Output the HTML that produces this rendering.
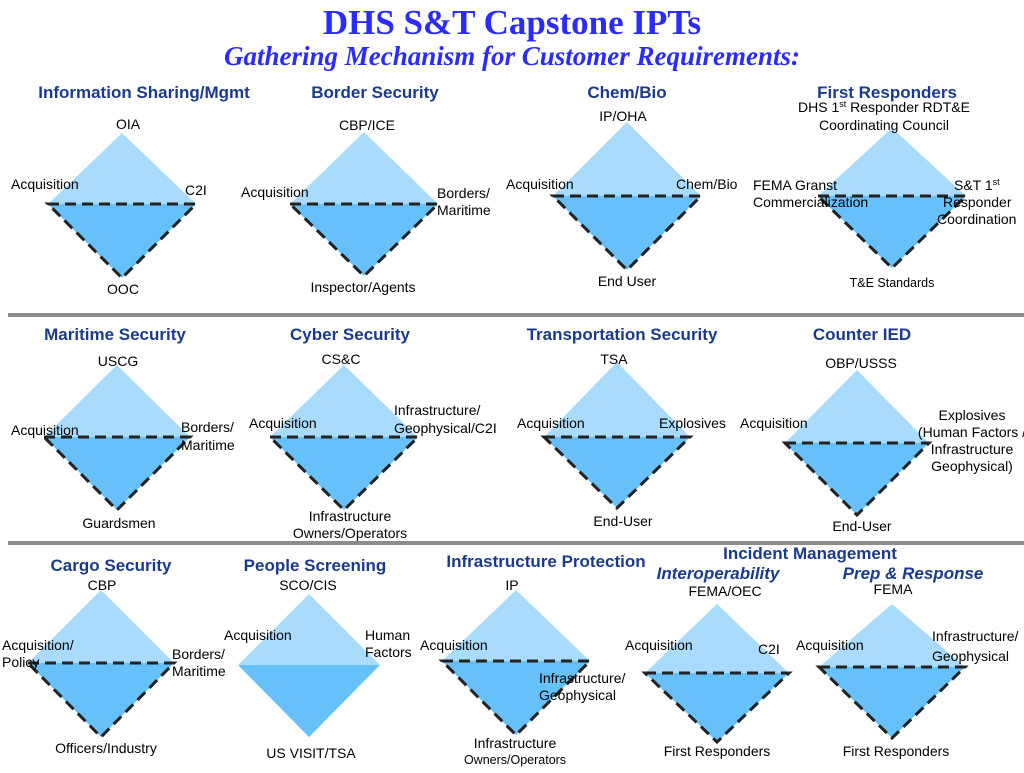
<!DOCTYPE html>
<html><head><meta charset="utf-8"><style>
body{margin:0;background:#fff;width:1024px;height:768px;overflow:hidden}
svg text{font-family:"Liberation Sans",sans-serif;font-size:14px;fill:#000}
.t{font-size:17px;font-weight:bold;fill:#1a3a8c}
.ti{font-size:17px;font-weight:bold;font-style:italic;fill:#1a3a8c}
</style></head><body>
<svg id="s" width="1024" height="768">
<text x="512" y="34" text-anchor="middle" style="font-family:'Liberation Serif',serif;font-size:35px;font-weight:bold;fill:#2b2bff">DHS S&amp;T Capstone IPTs</text>
<text x="512" y="65" text-anchor="middle" style="font-family:'Liberation Serif',serif;font-size:27px;font-weight:bold;font-style:italic;fill:#2b2bff">Gathering Mechanism for Customer Requirements:</text>
<rect x="8" y="313" width="1016" height="4" fill="#8c8c8c"/>
<rect x="8" y="541" width="1016" height="4" fill="#8c8c8c"/>
<g id="dg"></g>
<g>
<text class="t" x="144" y="98" text-anchor="middle">Information Sharing/Mgmt</text>
<text class="t" x="375" y="98" text-anchor="middle">Border Security</text>
<text class="t" x="627" y="98" text-anchor="middle">Chem/Bio</text>
<text class="t" x="887" y="98" text-anchor="middle">First Responders</text>
<text x="128" y="129" text-anchor="middle">OIA</text>
<text x="11" y="189">Acquisition</text>
<text x="185" y="195">C2I</text>
<text x="123" y="294" text-anchor="middle">OOC</text>
<text x="367" y="130" text-anchor="middle">CBP/ICE</text>
<text x="241" y="197">Acquisition</text>
<text x="437" y="198">Borders/</text>
<text x="437" y="215">Maritime</text>
<text x="363" y="292" text-anchor="middle">Inspector/Agents</text>
<text x="623" y="121" text-anchor="middle">IP/OHA</text>
<text x="506" y="189">Acquisition</text>
<text x="676" y="189">Chem/Bio</text>
<text x="627" y="286" text-anchor="middle">End User</text>
<text x="884" y="112" text-anchor="middle">DHS 1<tspan dy="-5" font-size="9">st</tspan><tspan dy="5"> Responder RDT&amp;E</tspan></text>
<text x="884" y="130" text-anchor="middle">Coordinating Council</text>
<text x="753" y="190">FEMA Granst</text>
<text x="753" y="207">Commercialization</text>
<text x="954" y="190">S&amp;T 1<tspan dy="-5" font-size="9">st</tspan></text>
<text x="943" y="207">Responder</text>
<text x="937" y="224">Coordination</text>
<text x="892" y="287" text-anchor="middle" style="font-size:12.5px">T&amp;E Standards</text>

<text class="t" x="115" y="340" text-anchor="middle">Maritime Security</text>
<text class="t" x="350" y="340" text-anchor="middle">Cyber Security</text>
<text class="t" x="622" y="340" text-anchor="middle">Transportation Security</text>
<text class="t" x="862" y="340" text-anchor="middle">Counter IED</text>
<text x="118" y="366" text-anchor="middle">USCG</text>
<text x="11" y="435">Acquisition</text>
<text x="181" y="432">Borders/</text>
<text x="181" y="450">Maritime</text>
<text x="119" y="528" text-anchor="middle">Guardsmen</text>
<text x="341" y="364" text-anchor="middle">CS&amp;C</text>
<text x="249" y="428">Acquisition</text>
<text x="394" y="415">Infrastructure/</text>
<text x="394" y="433">Geophysical/C2I</text>
<text x="350" y="521" text-anchor="middle">Infrastructure</text>
<text x="350" y="538" text-anchor="middle">Owners/Operators</text>
<text x="614" y="364" text-anchor="middle">TSA</text>
<text x="517" y="428">Acquisition</text>
<text x="659" y="428">Explosives</text>
<text x="623" y="526" text-anchor="middle">End-User</text>
<text x="861" y="368" text-anchor="middle">OBP/USSS</text>
<text x="740" y="428">Acquisition</text>
<text x="972" y="420" text-anchor="middle">Explosives</text>
<text x="972" y="437" text-anchor="middle">(Human Factors /</text>
<text x="972" y="454" text-anchor="middle">Infrastructure</text>
<text x="972" y="471" text-anchor="middle">Geophysical)</text>
<text x="862" y="531" text-anchor="middle">End-User</text>

<text class="t" x="111" y="571" text-anchor="middle">Cargo Security</text>
<text class="t" x="315" y="571" text-anchor="middle">People Screening</text>
<text class="t" x="546" y="567" text-anchor="middle">Infrastructure Protection</text>
<text class="t" x="810" y="559" text-anchor="middle">Incident Management</text>
<text class="ti" x="718" y="579" text-anchor="middle">Interoperability</text>
<text class="ti" x="913" y="579" text-anchor="middle">Prep &amp; Response</text>
<text x="102" y="590" text-anchor="middle">CBP</text>
<text x="2" y="650">Acquisition/</text>
<text x="2" y="667">Policy</text>
<text x="172" y="659">Borders/</text>
<text x="172" y="676">Maritime</text>
<text x="106" y="753" text-anchor="middle">Officers/Industry</text>
<text x="308" y="590" text-anchor="middle">SCO/CIS</text>
<text x="224" y="640">Acquisition</text>
<text x="365" y="640">Human</text>
<text x="365" y="657">Factors</text>
<text x="311" y="758" text-anchor="middle">US VISIT/TSA</text>
<text x="512" y="590" text-anchor="middle">IP</text>
<text x="420" y="650">Acquisition</text>
<text x="539" y="683">Infrastructure/</text>
<text x="539" y="700">Geophysical</text>
<text x="515" y="748" text-anchor="middle">Infrastructure</text>
<text x="515" y="764" text-anchor="middle" style="font-size:12.5px">Owners/Operators</text>
<text x="725" y="596" text-anchor="middle">FEMA/OEC</text>
<text x="625" y="650">Acquisition</text>
<text x="758" y="654">C2I</text>
<text x="717" y="756" text-anchor="middle">First Responders</text>
<text x="893" y="594" text-anchor="middle">FEMA</text>
<text x="796" y="650">Acquisition</text>
<text x="932" y="641">Infrastructure/</text>
<text x="932" y="661">Geophysical</text>
<text x="896" y="756" text-anchor="middle">First Responders</text>
</g>
</svg>
<script>
// diamond geometry: centerX, topY, midY, bottomY, halfWidth
const names=['info-sharing','border','chem-bio','first-responders','maritime','cyber','transportation','counter-ied','cargo','people-screening','infrastructure','interoperability','prep-response'];
const cx=[122,364,627,892,117,344,617,857,101,309,516,717,892];
const topY=[133,132,122,128,365,365,362,370,590,594,590,604,604];
const midY=[204,204,196,196,437,437,437,443,663,665,661,673,667];
const botY=[278,276,270,268,510,510,508,515,737,737,735,742,738];
const hw=[74,74,74,74,73,74,73,72,73,71,74,72,73];
const dashed=[1,1,1,1,1,1,1,1,1,0,1,1,1];
const g=document.getElementById('dg');
const NS='http://www.w3.org/2000/svg';
for(let i=0;i<cx.length;i++){
  const grp=document.createElementNS(NS,'g');
  
  
  const L=cx[i]-hw[i],R=cx[i]+hw[i];
  const up=document.createElementNS(NS,'polygon');
  up.setAttribute('points',`${L},${midY[i]} ${cx[i]},${topY[i]} ${R},${midY[i]}`);
  up.setAttribute('fill','#a9dcfc');
  
  
  grp.appendChild(up);
  const lo=document.createElementNS(NS,'polygon');
  lo.setAttribute('points',`${L},${midY[i]} ${cx[i]},${botY[i]} ${R},${midY[i]}`);
  lo.setAttribute('fill','#66c0fa');
  
  
  grp.appendChild(lo);
  if(dashed[i]){
    const p=document.createElementNS(NS,'path');
    p.setAttribute('d',`M${L},${midY[i]} L${R},${midY[i]} L${cx[i]},${botY[i]} Z`);
    p.setAttribute('fill','none');
    p.setAttribute('stroke','#222');
    p.setAttribute('stroke-width','3');
    p.setAttribute('stroke-dasharray','11,6');
    
    
    grp.appendChild(p);
  }
  g.appendChild(grp);
}
</script>
</body></html>
